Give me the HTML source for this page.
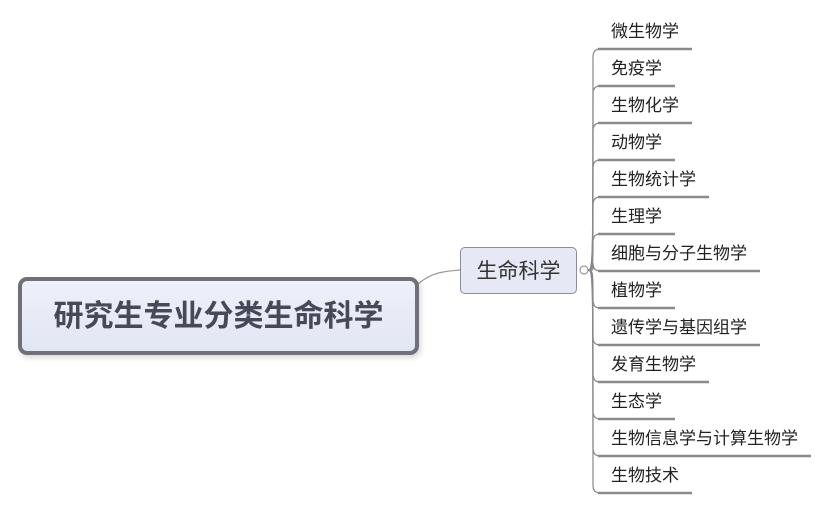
<!DOCTYPE html>
<html><head><meta charset="utf-8"><style>
body{margin:0;width:828px;height:510px;background:#fff;overflow:hidden;position:relative;font-family:"Liberation Sans","Noto Sans CJK SC",sans-serif}
.main{position:absolute;left:18px;top:277px;width:393px;height:70px;border:4px solid #707178;border-radius:9px;background:linear-gradient(#eef0fa,#e2e6f3);box-shadow:2px 3px 6px rgba(0,0,0,.15);text-align:center;line-height:72px;font-size:30px;font-weight:bold;color:#464a58}
.sub{position:absolute;left:460px;top:247px;width:115px;height:45px;border:1.5px solid #8a8c98;border-radius:5px;background:#e6e9f5;text-align:center;line-height:47px;font-size:21px;color:#333}
.it{position:absolute;left:611px;font-size:17px;color:#222;line-height:20px}
</style></head><body>
<svg width="828" height="510" style="position:absolute;left:0;top:0">
<path d="M411 290 C430 272 440 272 460 270" stroke="#999" stroke-width="1.2" fill="none"/>
<g id="br" fill="none" stroke="#888" stroke-width="1.2"></g>
<circle cx="584" cy="270" r="4" fill="#fff" stroke="#999" stroke-width="1.2"/>
</svg>
<div class="main">研究生专业分类生命科学</div>
<div class="sub">生命科学</div>
<div id="items"></div>
<script>
var t=["微生物学","免疫学","生物化学","动物学","生物统计学","生理学","细胞与分子生物学","植物学","遗传学与基因组学","发育生物学","生态学","生物信息学与计算生物学","生物技术"];
var g=document.getElementById('br'),h='',s='';
t.forEach(function(x,i){var y=49+37*i;var e=611+17*x.length+13;
var d=y<270?("M588 270 C593 270 593 268 593 "+(y+8)+" Q593 "+y+" 600 "+y):("M588 270 C593 270 593 272 593 "+(y-8)+" Q593 "+y+" 600 "+y);
h+='<path d="'+d+'"/><line x1="598" y1="'+y+'" x2="'+e+'" y2="'+y+'" stroke="#8a8a8e" stroke-width="2.5"/>';
s+='<div class="it" style="top:'+(y-27)+'px">'+x+'</div>';});
g.innerHTML=h;document.getElementById('items').innerHTML=s;
</script>
</body></html>
